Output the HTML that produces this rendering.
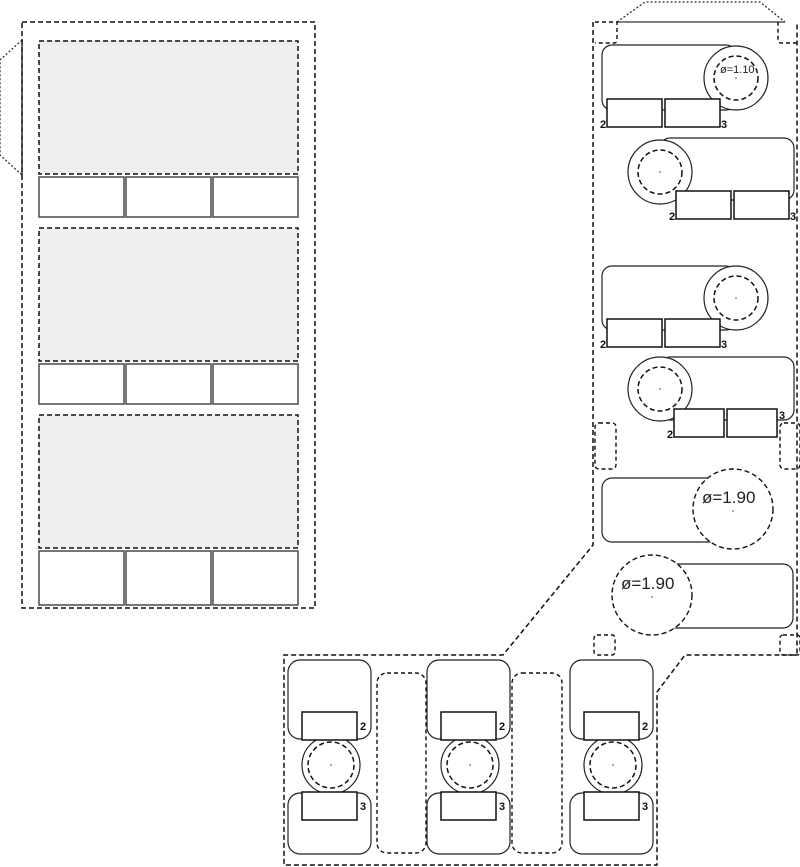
<!DOCTYPE html>
<html><head><meta charset="utf-8"><style>html,body{margin:0;padding:0;background:#fff}svg{display:block}</style></head>
<body>
<svg width="800" height="867" viewBox="0 0 800 867" xmlns="http://www.w3.org/2000/svg" font-family="Liberation Sans, sans-serif">
<!-- LEFT -->
<g fill="none" stroke="#111" stroke-width="1.5" stroke-dasharray="5,3">
<rect x="22" y="22" width="293" height="586"/>
</g>
<polyline points="22,40 0,60 0,155 22,175" fill="none" stroke="#222" stroke-width="1.2" stroke-dasharray="2,2"/>
<line x1="22" y1="40" x2="22" y2="175" stroke="#222" stroke-width="1.4"/>
<g fill="#eef0f0" stroke="#111" stroke-width="1.5" stroke-dasharray="5,3">
<rect x="39" y="41" width="259" height="133"/>
<rect x="39" y="228" width="259" height="133"/>
<rect x="39" y="415" width="259" height="133"/>
</g>
<g fill="#fff" stroke="#555" stroke-width="1.6">
<rect x="39" y="177" width="85" height="40"/><rect x="126" y="177" width="85" height="40"/><rect x="213" y="177" width="85" height="40"/>
<rect x="39" y="364" width="85" height="40"/><rect x="126" y="364" width="85" height="40"/><rect x="213" y="364" width="85" height="40"/>
<rect x="39" y="551" width="85" height="54"/><rect x="126" y="551" width="85" height="54"/><rect x="213" y="551" width="85" height="54"/>
</g>
<!-- RIGHT outline -->
<polyline points="617,22 645,2 760,2 785,22" fill="none" stroke="#222" stroke-width="1.2" stroke-dasharray="2,2"/>
<line x1="617" y1="22" x2="785" y2="22" stroke="#333" stroke-width="1.3"/>
<polyline points="593,22 593,545 503,655 284,655 284,865 657,865 657,692 685,655 797,655 797,22" fill="none" stroke="#111" stroke-width="1.5" stroke-dasharray="5,3"/>
<g fill="none" stroke="#111" stroke-width="1.4" stroke-dasharray="4,3">
<path d="M595,22 H617 V40 Q617,43 614,43 H595"/>
<path d="M797,43 H781 Q778,43 778,40 V22"/>
<rect x="595" y="423" width="21" height="46" rx="4"/>
<rect x="780" y="423" width="20" height="46" rx="4"/>
<rect x="594" y="635" width="21" height="20" rx="3"/>
<rect x="780" y="635" width="20" height="20" rx="3"/>
<rect x="377" y="673" width="49" height="180" rx="10"/>
<rect x="512" y="673" width="50" height="180" rx="10"/>
</g>
<!-- right units -->
<g stroke="#222" stroke-width="1.2" fill="#fff">
<rect x="602" y="45" width="134" height="65" rx="10"/>
<circle cx="736" cy="78" r="32"/>
<rect x="660" y="138" width="134" height="62" rx="10"/>
<circle cx="660" cy="172" r="32"/>
<rect x="602" y="266" width="134" height="64" rx="10"/>
<circle cx="736" cy="298" r="32"/>
<rect x="660" y="357" width="134" height="63" rx="10"/>
<circle cx="660" cy="389" r="32"/>
<rect x="602" y="478" width="130" height="64" rx="10"/>
<rect x="660" y="564" width="133" height="64" rx="10"/>
</g>
<g stroke="#111" stroke-width="1.5" fill="none" stroke-dasharray="5,3">
<circle cx="736" cy="78" r="22"/>
<circle cx="660" cy="172" r="22"/>
<circle cx="736" cy="298" r="22"/>
<circle cx="660" cy="389" r="22"/>
</g>
<g stroke="#111" stroke-width="1.4" fill="#fff" stroke-dasharray="5,3">
<circle cx="733" cy="509" r="40"/>
<circle cx="652" cy="595" r="40"/>
</g>
<g fill="#333">
<circle cx="736" cy="78" r="0.7"/><circle cx="660" cy="172" r="0.7"/><circle cx="736" cy="298" r="0.7"/><circle cx="660" cy="389" r="0.7"/><circle cx="733" cy="511" r="0.7"/><circle cx="652" cy="597" r="0.7"/>
</g>
<text x="720" y="73" font-size="11" fill="#222">ø=1.10</text>
<text x="702" y="503" font-size="17" fill="#222">ø=1.90</text>
<text x="621" y="589" font-size="17" fill="#222">ø=1.90</text>
<g fill="#fff" stroke="#111" stroke-width="1.5">
<rect x="607" y="99" width="55" height="28"/><rect x="665" y="99" width="55" height="28"/>
<rect x="676" y="191" width="55" height="28"/><rect x="734" y="191" width="55" height="28"/>
<rect x="607" y="319" width="55" height="28"/><rect x="665" y="319" width="55" height="28"/>
<rect x="674" y="409" width="50" height="28"/><rect x="727" y="409" width="50" height="28"/>
</g>
<g font-size="11" font-weight="bold" fill="#111">
<text x="600" y="128">2</text><text x="721" y="128">3</text>
<text x="669" y="220">2</text><text x="790" y="220">3</text>
<text x="600" y="348">2</text><text x="721" y="348">3</text>
<text x="667" y="438">2</text><text x="779" y="419">3</text>
</g>
<!-- bottom units -->
<g id="bu">
<g stroke="#222" stroke-width="1.2" fill="#fff">
<rect x="288" y="660" width="83" height="79" rx="12"/>
<rect x="288" y="793" width="83" height="61" rx="12"/>
<circle cx="331" cy="765" r="29"/>
</g>
<circle cx="331" cy="765" r="23" fill="none" stroke="#111" stroke-width="1.5" stroke-dasharray="5,3"/>
<circle cx="331" cy="765" r="0.7" fill="#333"/>
<g fill="#fff" stroke="#111" stroke-width="1.5">
<rect x="302" y="712" width="55" height="28"/>
<rect x="302" y="792" width="55" height="28"/>
</g>
<g font-size="11" font-weight="bold" fill="#111"><text x="360" y="730">2</text><text x="360" y="810">3</text></g>
</g>
<use href="#bu" x="139"/>
<use href="#bu" x="282"/>
</svg>
</body></html>
